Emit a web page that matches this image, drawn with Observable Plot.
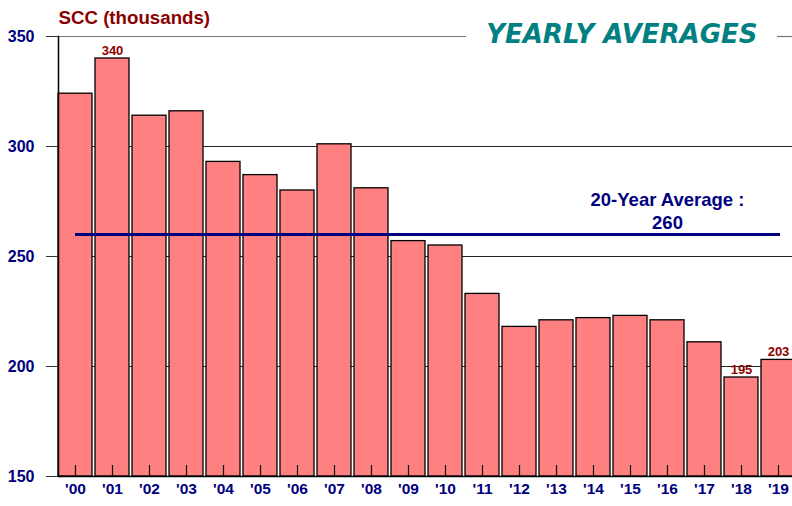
<!DOCTYPE html>
<html>
<head>
<meta charset="utf-8">
<script src="https://cdn.jsdelivr.net/npm/d3@7"></script>
<script src="https://cdn.jsdelivr.net/npm/@observablehq/plot@0.6"></script>
<style>
  html, body { margin: 0; padding: 0; background: #fff; }
  #chart { width: 792px; height: 506px; overflow: hidden; }
</style>
</head>
<body>
<div id="chart"></div>
<script>
const years = ["'00","'01","'02","'03","'04","'05","'06","'07","'08","'09","'10","'11","'12","'13","'14","'15","'16","'17","'18","'19"];
const values = [324,340,314,316,293,287,280,301,281,257,255,233,218,221,222,223,221,211,195,203];
const labelledYears = ["'01","'18","'19"];
const yTicks = [150,200,250,300,350];
const gridValues = [200,250,300];
const average = [260];
const avgLabel = "20-Year Average :\n260";
const yTitle = "SCC (thousands)";
const chartTitle = "YEARLY AVERAGES";

const data = years.map((y, i) => ({year: y, value: values[i]}));
const labelled = data.filter(d => labelledYears.includes(d.year));
const font = "'Liberation Sans', Arial, sans-serif";

const chart = Plot.plot({
  width: 792,
  height: 506,
  marginLeft: 58,
  marginRight: 0,
  marginTop: 36,
  marginBottom: 30,
  style: {fontFamily: font, background: "#fff", overflow: "hidden"},
  x: {domain: years, range: [56.5, 796.5], paddingInner: 0.08, paddingOuter: 0.04, align: 0.5},
  y: {domain: [150, 350], ticks: yTicks},
  marks: [
    Plot.ruleY(gridValues, {stroke: "#222", strokeWidth: 1}),
    Plot.ruleY([350], {stroke: "#777", strokeWidth: 1.2, insetRight: 326}),
    Plot.ruleY([350], {stroke: "#777", strokeWidth: 1.2, insetLeft: 719}),
    Plot.barY(data, {x: "year", y1: 150, y2: "value", fill: "#FF8080", stroke: "#000", strokeWidth: 1.3}),
    Plot.ruleX(years, {x: d => d, y1: yTicks[0], y2: yTicks[0] + 5, stroke: "#111", strokeWidth: 1.2}),
    Plot.ruleY([150], {stroke: "#000", strokeWidth: 1.5}),
    Plot.frame({anchor: "left", stroke: "#000", strokeWidth: 1.5}),
    Plot.axisY({ticks: yTicks, tickSize: 12, tickPadding: 12, stroke: "#333", fill: "#000080", fontWeight: "bold", fontSize: 16, label: null}),
    Plot.axisX({tickSize: 0, tickPadding: 6, fill: "#000080", fontWeight: "bold", fontSize: 15.5, label: null}),
    Plot.ruleY(average, {stroke: "#000080", strokeWidth: 3, insetLeft: 17, insetRight: 12}),
    Plot.text([avgLabel], {x: () => "'16", y: () => average[0], text: d => d, lineAnchor: "bottom", dy: -6, lineHeight: 1.22, fill: "#000080", fontWeight: "bold", fontSize: 18.5}),
    Plot.text(labelled, {x: "year", y: "value", text: d => String(d.value), lineAnchor: "bottom", dy: -4, fill: "#8B0000", fontWeight: "bold", fontSize: 13}),
    Plot.text([yTitle], {frameAnchor: "top-left", text: d => d, dx: 0, dy: -26, lineAnchor: "top", textAnchor: "start", fill: "#8B0000", fontWeight: "bold", fontSize: 18.7}),
    Plot.text([chartTitle], {frameAnchor: "top-right", text: d => d, dx: -35, dy: -2, lineAnchor: "middle", textAnchor: "end", fill: "#008080", fontWeight: "bold", fontStyle: "italic", fontSize: 26, fontFamily: "'DejaVu Sans', sans-serif", letterSpacing: "1px"})
  ]
});
document.getElementById("chart").appendChild(chart);
</script>
</body>
</html>
